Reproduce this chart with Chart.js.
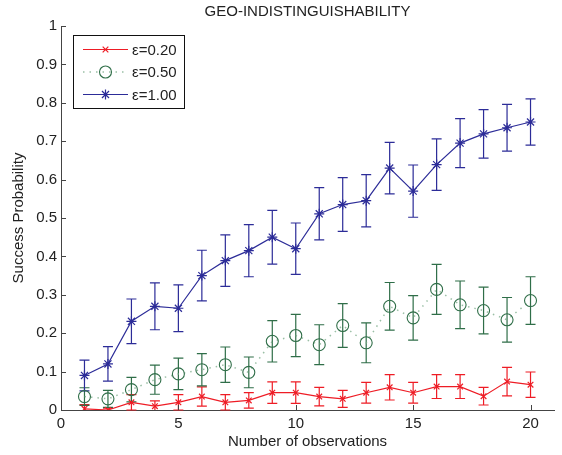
<!DOCTYPE html>
<html>
<head>
<meta charset="utf-8">
<script src="https://cdn.jsdelivr.net/npm/chart.js@4.4.0/dist/chart.umd.min.js"></script>
<style>
  html, body { margin: 0; padding: 0; background: #fff; }
  #wrap { width: 562px; height: 455px; }
</style>
</head>
<body>
<div id="wrap"><canvas id="chart" width="562" height="455"></canvas></div>
<script>
// Data
const observations = [1, 2, 3, 4, 5, 6, 7, 8, 9, 10, 11, 12, 13, 14, 15, 16, 17, 18, 19, 20];
const xTicks = [0, 5, 10, 15, 20];

const eps020 = [0.003, 0.0, 0.02, 0.01, 0.02, 0.035, 0.02, 0.025, 0.045, 0.045,
                0.035, 0.029, 0.045, 0.059, 0.045, 0.061, 0.061, 0.036, 0.074, 0.066];
const err020 = [0.011, 0.005, 0.02, 0.014, 0.02, 0.025, 0.02, 0.02, 0.028, 0.028,
                0.024, 0.022, 0.027, 0.033, 0.027, 0.031, 0.031, 0.023, 0.037, 0.033];

const eps050 = [0.035, 0.029, 0.053, 0.079, 0.094, 0.105, 0.118, 0.098, 0.179, 0.194,
                0.17, 0.22, 0.175, 0.27, 0.24, 0.314, 0.274, 0.259, 0.235, 0.285];
const err050 = [0.023, 0.022, 0.032, 0.038, 0.041, 0.042, 0.046, 0.04, 0.054, 0.055,
                0.052, 0.057, 0.052, 0.062, 0.058, 0.065, 0.062, 0.061, 0.058, 0.062];

const eps100 = [0.09, 0.12, 0.231, 0.27, 0.265, 0.35, 0.389, 0.415, 0.45, 0.42,
                0.511, 0.535, 0.545, 0.63, 0.57, 0.639, 0.695, 0.719, 0.735, 0.75];
const err100 = [0.04, 0.045, 0.058, 0.061, 0.061, 0.066, 0.067, 0.068, 0.07, 0.067,
                0.068, 0.07, 0.068, 0.067, 0.068, 0.067, 0.064, 0.063, 0.061, 0.06];

const seriesLabels = ['\u03b5=0.20', '\u03b5=0.50', '\u03b5=1.00'];

const FONT = '"Liberation Sans", Arial, Helvetica, sans-serif';
const TEXT = '#222';

const red = '#ee1c25';
const green = '#2f6e48';
const greenLine = 'rgba(120,170,135,0.75)';
const blue = '#2c2c98';

function points(ys) {
    return observations.map((x, i) => ({ x: x, y: ys[i] }));
}

// error bars drawn through the scales, underneath the lines
const errorBars = {
    id: 'errorBars',
    beforeDatasetsDraw(chart) {
        const ctx = chart.ctx;
        const xs = chart.scales.x, ys = chart.scales.y;
        chart.data.datasets.forEach(ds => {
            ctx.save();
            ctx.strokeStyle = ds.errColor;
            ctx.lineWidth = 1.2;
            ds.data.forEach((p, i) => {
                const e = ds.errors[i];
                const px = xs.getPixelForValue(p.x);
                const top = ys.getPixelForValue(p.y + e);
                const bot = ys.getPixelForValue(Math.max(p.y - e, 0));
                ctx.beginPath();
                ctx.moveTo(px, top); ctx.lineTo(px, bot);
                ctx.moveTo(px - 5, top); ctx.lineTo(px + 5, top);
                if (p.y - e >= 0) { ctx.moveTo(px - 5, bot); ctx.lineTo(px + 5, bot); }
                ctx.stroke();
            });
            ctx.restore();
        });
    }
};

// inward tick marks, matlab style
const innerTicks = {
    id: 'innerTicks',
    afterDraw(chart) {
        const ctx = chart.ctx, a = chart.chartArea;
        ctx.save();
        ctx.strokeStyle = '#444';
        ctx.lineWidth = 1;
        chart.scales.x.ticks.forEach(t => {
            const px = Math.round(chart.scales.x.getPixelForValue(t.value)) + 0.5;
            ctx.beginPath(); ctx.moveTo(px, a.bottom); ctx.lineTo(px, a.bottom - 5); ctx.stroke();
        });
        chart.scales.y.ticks.forEach(t => {
            const py = Math.round(chart.scales.y.getPixelForValue(t.value)) + 0.5;
            ctx.beginPath(); ctx.moveTo(a.left, py); ctx.lineTo(a.left + 5, py); ctx.stroke();
        });
        ctx.restore();
    }
};

// legend box in the top-left corner of the plot
const boxLegend = {
    id: 'boxLegend',
    afterDraw(chart) {
        const ctx = chart.ctx, a = chart.chartArea;
        const bx = a.left + 12, by = a.top + 9, bw = 111, bh = 73;
        ctx.save();
        ctx.fillStyle = '#fff';
        ctx.fillRect(bx, by, bw, bh);
        ctx.strokeStyle = '#111';
        ctx.lineWidth = 1;
        ctx.strokeRect(bx + 0.5, by + 0.5, bw, bh);
        chart.data.datasets.forEach((ds, i) => {
            const y = by + 14.5 + i * 22.5;
            ctx.save();
            ctx.strokeStyle = ds.borderColor;
            ctx.lineWidth = ds.borderWidth;
            ctx.setLineDash(ds.borderDash || []);
            ctx.beginPath(); ctx.moveTo(bx + 10, y); ctx.lineTo(bx + 55, y); ctx.stroke();
            ctx.restore();
            ctx.save();
            ctx.strokeStyle = ds.pointBorderColor;
            ctx.fillStyle = 'rgba(0,0,0,0)';
            ctx.lineWidth = ds.pointBorderWidth;
            Chart.helpers.drawPoint(ctx, { pointStyle: ds.pointStyle, radius: ds.pointRadius, rotation: 0, borderWidth: ds.pointBorderWidth }, bx + 32.5, y);
            ctx.restore();
            ctx.fillStyle = TEXT;
            ctx.font = '15px ' + FONT;
            ctx.textBaseline = 'middle';
            ctx.fillText(ds.label, bx + 59, y + 1);
        });
        ctx.restore();
    }
};

new Chart(document.getElementById('chart'), {
    type: 'line',
    data: {
        datasets: [{
            label: seriesLabels[0],
            data: points(eps020),
            errors: err020,
            errColor: red,
            borderColor: red,
            borderWidth: 1.2,
            pointStyle: 'crossRot',
            pointRadius: 4,
            pointBorderColor: red,
            pointBorderWidth: 1.2,
            pointBackgroundColor: 'rgba(0,0,0,0)',
            tension: 0
        }, {
            label: seriesLabels[1],
            data: points(eps050),
            errors: err050,
            errColor: green,
            borderColor: greenLine,
            borderWidth: 1.5,
            borderDash: [1.5, 5],
            pointStyle: 'circle',
            pointRadius: 6,
            pointBorderColor: green,
            pointBorderWidth: 1.1,
            pointBackgroundColor: 'rgba(0,0,0,0)',
            tension: 0
        }, {
            label: seriesLabels[2],
            data: points(eps100),
            errors: err100,
            errColor: blue,
            borderColor: blue,
            borderWidth: 1.2,
            pointStyle: 'star',
            pointRadius: 5,
            pointBorderColor: blue,
            pointBorderWidth: 1.2,
            pointBackgroundColor: 'rgba(0,0,0,0)',
            tension: 0
        }]
    },
    options: {
        responsive: false,
        animation: false,
        layout: { padding: { left: 0, right: 8, top: 0, bottom: 0 } },
        plugins: {
            legend: { display: false },
            tooltip: { enabled: false },
            title: {
                display: true,
                fullSize: false,
                text: 'GEO-INDISTINGUISHABILITY',
                color: TEXT,
                font: { family: FONT, size: 15, weight: 'normal', lineHeight: 1.2 },
                padding: { top: 2.7, bottom: 5.3 }
            }
        },
        scales: {
            x: {
                type: 'linear',
                min: 0,
                max: 21,
                grid: { display: false, drawTicks: false },
                border: { display: true, color: '#444', width: 1 },
                afterBuildTicks: s => { s.ticks = xTicks.map(v => ({ value: v })); },
                afterFit: s => { s.height = 45; },
                ticks: { stepSize: 5, padding: 5, autoSkip: false, maxRotation: 0,
                         color: TEXT, font: { family: FONT, size: 15 } },
                title: {
                    display: true,
                    text: 'Number of observations',
                    color: TEXT,
                    font: { family: FONT, size: 15 },
                    padding: { top: 1, bottom: 4 }
                }
            },
            y: {
                min: 0,
                max: 1,
                grid: { display: false, drawTicks: false },
                border: { display: true, color: '#444', width: 1 },
                afterFit: s => { s.width = 61; },
                ticks: { stepSize: 0.1, padding: 4, autoSkip: false,
                         color: TEXT, font: { family: FONT, size: 15 },
                         callback: v => String(Math.round(v * 10) / 10) },
                title: {
                    display: true,
                    text: 'Success Probability',
                    color: TEXT,
                    font: { family: FONT, size: 15 },
                    padding: { top: 10, bottom: 0 }
                }
            }
        }
    },
    plugins: [errorBars, innerTicks, boxLegend]
});
</script>
</body>
</html>
